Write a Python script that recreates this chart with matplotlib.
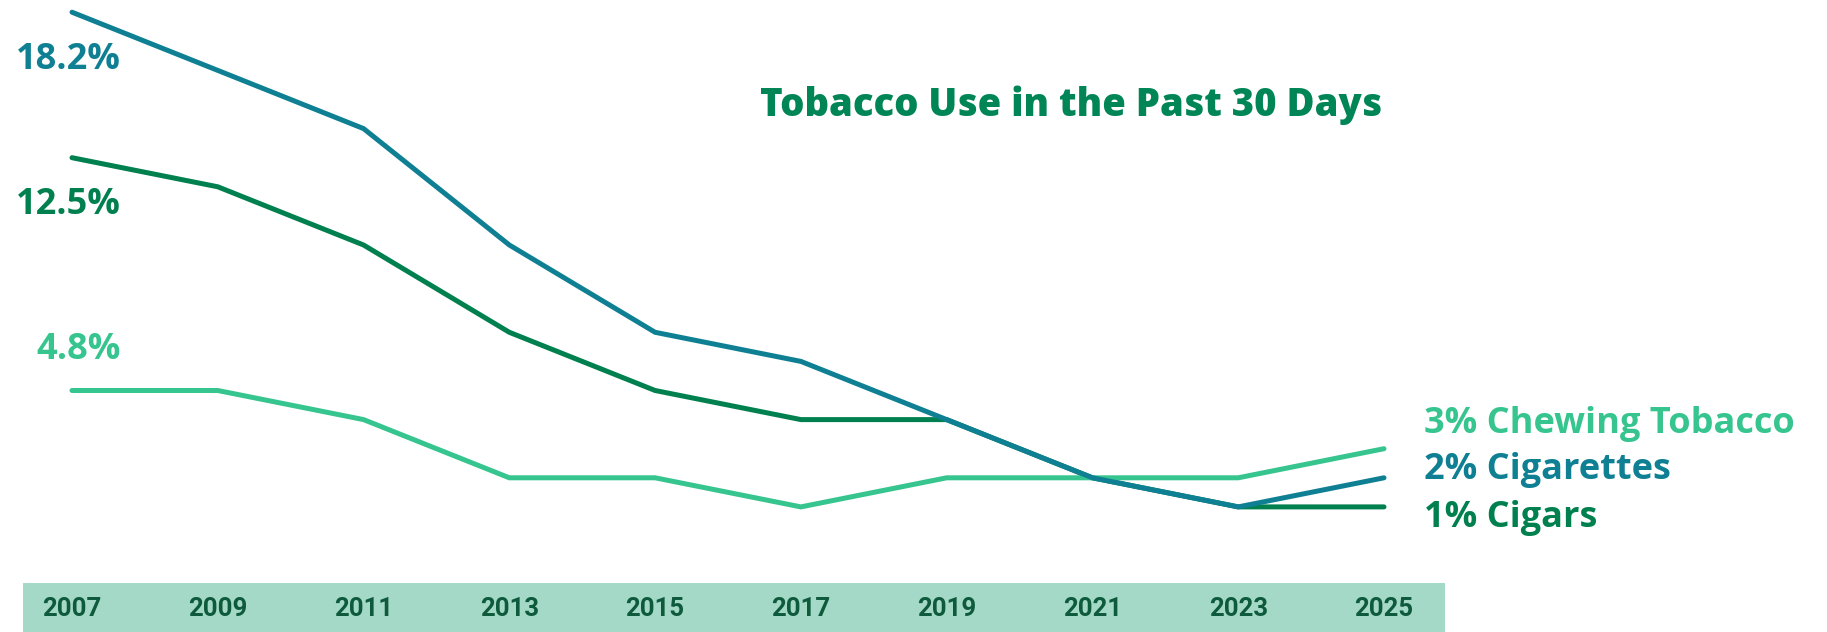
import matplotlib.pyplot as plt

years = [2007, 2009, 2011, 2013, 2015, 2017, 2019, 2021, 2023, 2025]
cigarettes = [18, 16, 14, 10, 7, 6, 4, 2, 1, 2]
cigars = [13, 12, 10, 7, 5, 4, 4, 2, 1, 1]
chewing = [5, 5, 4, 2, 2, 1, 2, 2, 2, 3]

start_labels = ["18.2%", "12.5%", "4.8%"]
end_labels = ["3% Chewing Tobacco", "2% Cigarettes", "1% Cigars"]
title = "Tobacco Use in the Past 30 Days"

c_cig = "#0f8093"
c_cigar = "#00804f"
c_chew = "#36c48f"
c_band = "#a4d9c7"
c_year = "#0e5a3c"

W, H = 1827, 632
fig = plt.figure(figsize=(W / 100, H / 100), dpi=100)

def fx(px):
    return px / W

def fy(py):
    return 1 - py / H

# main axes covers whole figure, limits chosen so years/values land where they should
ax = fig.add_axes([0, 0, 1, 1])
ax.axis("off")
px_year = (1384 - 72) / 18
px_unit = 29.1
ax.set_xlim(2007 - 72 / px_year, 2025 + (W - 1384) / px_year)
ax.set_ylim(-(H - 536) / px_unit, 536 / px_unit)

lw = 3.6
ax.plot(years, cigars, color=c_cigar, lw=lw, solid_capstyle="round", solid_joinstyle="miter")
ax.plot(years, chewing, color=c_chew, lw=lw, solid_capstyle="round", solid_joinstyle="miter")
ax.plot(years, cigarettes, color=c_cig, lw=lw, solid_capstyle="round", solid_joinstyle="miter")

# year band at the bottom
band = fig.add_axes([fx(23), 0, fx(1445 - 23), (H - 583) / H])
band.set_facecolor(c_band)
for s in band.spines.values():
    s.set_visible(False)
band.set_xticks([])
band.set_yticks([])
band.set_xlim(2007 - (72 - 23) / px_year, 2025 + (1445 - 1384) / px_year)
band.set_ylim(0, 1)
for yr in years:
    band.text(yr, 0.47, str(yr), ha="center", va="center", fontsize=18.5,
              fontweight="bold", family="Roboto", color=c_year)

lab_font = dict(family="Open Sans", fontweight="bold", fontsize=26)

# left start labels
fig.text(fx(121), fy(60), start_labels[0], ha="right", va="center", color=c_cig, **lab_font)
fig.text(fx(121), fy(205), start_labels[1], ha="right", va="center", color=c_cigar, **lab_font)
fig.text(fx(121), fy(350), start_labels[2], ha="right", va="center", color=c_chew, **lab_font)

# right end labels
fig.text(fx(1424), fy(424), end_labels[0], ha="left", va="center", color=c_chew, **lab_font)
fig.text(fx(1424), fy(470), end_labels[1], ha="left", va="center", color=c_cig, **lab_font)
fig.text(fx(1424), fy(518), end_labels[2], ha="left", va="center", color=c_cigar, **lab_font)

fig.text(fx(1382), fy(105), title, ha="right", va="center", color="#008556",
         family="Open Sans", fontweight="heavy", fontsize=27.5)

fig.savefig("out.png", dpi=100)
